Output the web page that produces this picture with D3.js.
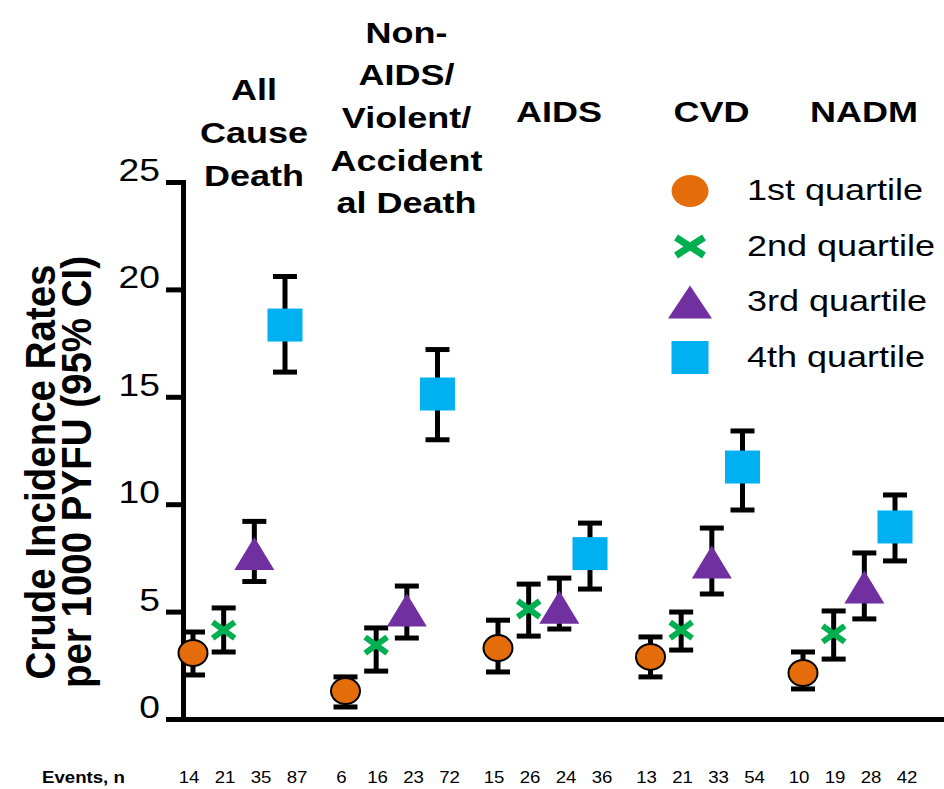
<!DOCTYPE html>
<html>
<head>
<meta charset="utf-8">
<script src="https://cdn.jsdelivr.net/npm/d3@7"></script>
<style>
  body { margin: 0; background: #fff; }
  text { font-family: "Liberation Sans", Arial, sans-serif; fill: #000; }
</style>
</head>
<body>
<script>
// incidence of death by quartile, per cause
var causes = [
  ['All', 'Cause', 'Death'],
  ['Non-', 'AIDS/', 'Violent/', 'Accident', 'al Death'],
  ['AIDS'],
  ['CVD'],
  ['NADM']
];
var quartiles = ['1st quartile', '2nd quartile', '3rd quartile', '4th quartile'];
var rates = [
  [3.07, 4.14, 7.7, 18.34],
  [1.30, 3.44, 5.07, 15.13],
  [3.30, 5.12, 5.2, 7.7],
  [2.89, 4.14, 7.31, 11.73],
  [2.14, 3.96, 6.15, 8.94]
];
var lower = [
  [2.05, 3.12, 6.4, 16.15],
  [0.56, 2.23, 3.77, 13.0],
  [2.19, 3.86, 4.19, 6.05],
  [1.96, 3.21, 5.82, 9.73],
  [1.40, 2.79, 4.66, 7.36]
];
var upper = [
  [4.05, 5.17, 9.2, 20.6],
  [1.96, 4.24, 6.19, 17.2],
  [4.60, 6.28, 6.56, 9.12],
  [3.82, 4.98, 8.89, 13.41],
  [3.12, 5.03, 7.73, 10.43]
];
var events = [
  [14, 21, 35, 87],
  [6, 16, 23, 72],
  [15, 26, 24, 36],
  [13, 21, 33, 54],
  [10, 19, 28, 42]
];
var yTicks = [0, 5, 10, 15, 20, 25];
var yTitle = ['Crude Incidence Rates', 'per 1000 PYFU (95% CI)'];
var eventsLabel = 'Events, n';

var colors = ['#E46C0A', '#00B050', '#7030A0', '#00B0F0'];
var SX = 1.2; // text in the picture is drawn a bit wide

var svg = d3.select('body').append('svg').attr('width', 944).attr('height', 789);

var y = d3.scaleLinear().domain([0, 25]).range([719, 182]);
var gx = d3.scaleBand().domain(d3.range(causes.length)).range([162.75, 925.25]);
var qx = d3.scalePoint().domain(d3.range(quartiles.length)).range([-46, 46]);
var ex = d3.scalePoint().domain(d3.range(quartiles.length)).range([-50, 58]);

function wideText(sel, x, yy, sx) {
  return sel.append('text').attr('transform', 'translate(' + x + ',' + yy + ') scale(' + sx + ',1)');
}

function drawMarker(g, q, big) {
  if (q === 0) {
    g.append('ellipse').attr('rx', big ? 18.5 : 14.5).attr('ry', big ? 16 : 13)
      .attr('fill', colors[0]).attr('stroke', big ? 'none' : '#000').attr('stroke-width', 2);
  } else if (q === 1) {
    var w = big ? 14 : 11, h = big ? 9 : 8;
    g.append('path').attr('d', 'M' + (-w) + ',' + (-h) + 'L' + w + ',' + h + 'M' + (-w) + ',' + h + 'L' + w + ',' + (-h))
      .attr('stroke', colors[1]).attr('stroke-width', big ? 7 : 6).attr('fill', 'none');
  } else if (q === 2) {
    var tw = big ? 22 : 20, th = 16.5;
    g.append('path').attr('d', 'M0,' + (-th) + 'L' + tw + ',' + th + 'L' + (-tw) + ',' + th + 'Z')
      .attr('fill', colors[2]);
  } else {
    var sw = big ? 18.5 : 17.5;
    g.append('rect').attr('x', -sw).attr('y', -16.5).attr('width', sw * 2).attr('height', 33)
      .attr('fill', colors[3]);
  }
}

// y axis
var yAxis = d3.axisLeft(y).tickValues(yTicks).tickSize(17).tickSizeOuter(0).tickFormat('');
var ya = svg.append('g').attr('transform', 'translate(183,0)').call(yAxis);
ya.select('.domain').attr('stroke-width', 5).attr('stroke-linecap', 'square');
ya.selectAll('.tick line').attr('stroke-width', 5);
yTicks.forEach(function(t) {
  wideText(svg, 160, y(t) - 1, SX).attr('text-anchor', 'end').attr('font-size', 31).text(t);
});

// x axis line
var xLine = d3.scaleLinear().range([166, 944]);
var xa = svg.append('g').attr('transform', 'translate(0,' + y(0) + ')')
  .call(d3.axisBottom(xLine).tickValues([]).tickSizeOuter(0));
xa.select('.domain').attr('stroke-width', 5);

// y title
var yt = svg.append('text').attr('transform', 'scale(1.1,1) translate(0,472) rotate(-90)')
  .attr('text-anchor', 'middle').attr('font-size', 38.5).attr('font-weight', 'bold');
yTitle.forEach(function(s, i) {
  yt.append('tspan').attr('x', 0).attr('y', 50 + i * 32.7).text(s);
});

// cause titles
causes.forEach(function(lines, c) {
  var cx = gx(c) + gx.bandwidth() / 2 + 15;
  var mid = lines.length === 5 ? 128 : (lines.length === 3 ? 143 : 122);
  lines.forEach(function(s, i) {
    wideText(svg, cx, mid + (i - (lines.length - 1) / 2) * 42.7, SX)
      .attr('text-anchor', 'middle').attr('font-size', 30).attr('font-weight', 'bold').text(s);
  });
});

// error bars and markers
causes.forEach(function(lines, c) {
  quartiles.forEach(function(q, i) {
    var cx = gx(c) + gx.bandwidth() / 2 + qx(i);
    var g = svg.append('g');
    g.append('line').attr('x1', cx).attr('x2', cx).attr('y1', y(lower[c][i])).attr('y2', y(upper[c][i]))
      .attr('stroke', '#000').attr('stroke-width', 5);
    [lower[c][i], upper[c][i]].forEach(function(v) {
      g.append('line').attr('x1', cx - 12).attr('x2', cx + 12).attr('y1', y(v)).attr('y2', y(v))
        .attr('stroke', '#000').attr('stroke-width', 5);
    });
    var m = g.append('g').attr('transform', 'translate(' + cx + ',' + y(rates[c][i]) + ')');
    drawMarker(m, i, false);
  });
});

// legend
var ly = d3.scalePoint().domain(quartiles).range([191, 357.5]);
quartiles.forEach(function(q, i) {
  var m = svg.append('g').attr('transform', 'translate(690,' + ly(q) + ')');
  drawMarker(m, i, true);
  wideText(svg, 747, ly(q) + 9, SX).attr('font-size', 30).text(q);
});

// events row
wideText(svg, 42, 783, 1.13).attr('font-size', 16.5).attr('font-weight', 'bold').text(eventsLabel);
events.forEach(function(row, c) {
  row.forEach(function(n, i) {
    wideText(svg, gx(c) + gx.bandwidth() / 2 + ex(i), 783, 1.13)
      .attr('text-anchor', 'middle').attr('font-size', 16.5).text(n);
  });
});
</script>
</body>
</html>
